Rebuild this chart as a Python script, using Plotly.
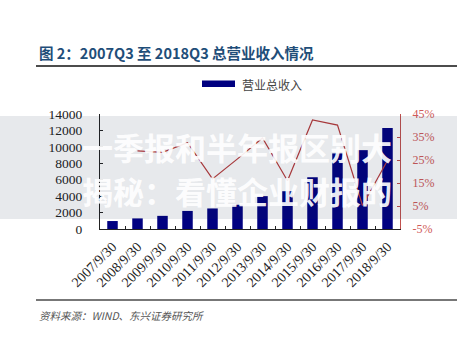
import plotly.graph_objects as go

# ---- data ----
dates = ["2007/9/30", "2008/9/30", "2009/9/30", "2010/9/30", "2011/9/30", "2012/9/30",
         "2013/9/30", "2014/9/30", "2015/9/30", "2016/9/30", "2017/9/30", "2018/9/30"]
revenue = [970, 1290, 1600, 2200, 2500, 2950, 4000, 4600, 6300, 9200, 9600, 12300]
growth = [None, 29.0, 28.3, 32.5, 16.8, 25.5, 34.6, 16.0, 42.4, 40.2, 5.2, 24.8]

left_ticks = [0, 2000, 4000, 6000, 8000, 10000, 12000, 14000]
right_ticks = [-5, 5, 15, 25, 35, 45]
right_tick_labels = ["-5%", "5%", "15%", "25%", "35%", "45%"]

title_text = "图 2：2007Q3 至 2018Q3 总营业收入情况"
legend_text = "营业总收入"
source_text = "资料来源：WIND、东兴证券研究所"
wm_line1 = "一季报和半年报区别大"
wm_line2 = "揭秘：看懂企业财报的"

W, H = 457, 337
L, R, T, B = 100, 57, 114, 108


def PX(x):
    return (x - L) / (W - L - R)


def PY(y):
    return (H - B - y) / (H - T - B)


serif = "Liberation Serif"
cjk = "Noto Sans CJK SC"

fig = go.Figure()
fig.add_trace(go.Bar(x=dates, y=revenue, marker_color="#000080", marker_line_width=0,
                     width=0.42, yaxis="y", name=legend_text))
fig.add_trace(go.Scatter(x=dates, y=growth, mode="lines", yaxis="y2",
                         line=dict(color="#B83B3B", width=1.2), connectgaps=False))

fig.update_layout(
    width=W, height=H,
    margin=dict(l=L, r=R, t=T, b=B, pad=0),
    paper_bgcolor="white", plot_bgcolor="white",
    showlegend=False,
    xaxis=dict(type="category", showline=True, linecolor="#222", linewidth=1,
               ticks="inside", tickson="boundaries", ticklen=3, tickcolor="#222",
               tickangle=-45, tickfont=dict(family=serif, size=14, color="#222"),
               showgrid=False, zeroline=False, ticklabelstandoff=3),
    yaxis=dict(range=[left_ticks[0], left_ticks[-1]], tickmode="array", tickvals=left_ticks,
               ticktext=[str(v) for v in left_ticks],
               showline=True, linecolor="#222", linewidth=1,
               ticks="inside", ticklen=3, tickcolor="#222", showgrid=False, zeroline=False,
               tickfont=dict(family=serif, size=13.5, color="#222"), ticklabelstandoff=14),
    yaxis2=dict(range=[right_ticks[0], right_ticks[-1]], tickmode="array", tickvals=right_ticks,
                ticktext=right_tick_labels, overlaying="y", side="right",
                showline=True, linecolor="#C0504D", linewidth=1, ticks="inside", ticklen=3,
                tickcolor="#C0504D", showgrid=False, zeroline=False,
                tickfont=dict(family=serif, size=12, color="#D05A5A"), ticklabelstandoff=9),
)

shapes = [
    dict(type="line", xref="paper", yref="paper", x0=PX(36), x1=PX(457), y0=PY(66), y1=PY(66),
         line=dict(color="#111", width=1.5)),
    dict(type="line", xref="paper", yref="paper", x0=PX(36), x1=PX(457), y0=PY(300), y1=PY(300),
         line=dict(color="#777", width=2)),
    dict(type="rect", xref="paper", yref="paper", x0=PX(202), x1=PX(235), y0=PY(87), y1=PY(80.5),
         fillcolor="#000080", line=dict(width=0)),
    dict(type="rect", xref="paper", yref="paper", x0=PX(0), x1=PX(457), y0=PY(219), y1=PY(116),
         fillcolor="rgba(20,40,70,0.1)", line=dict(width=0), layer="above"),
]
fig.update_layout(shapes=shapes)

annotations = [
    dict(text=title_text, x=PX(37), y=PY(53), xref="paper", yref="paper", xanchor="left",
         yanchor="middle", showarrow=False,
         font=dict(family=cjk, size=14.5, color="#1F4E79", weight="bold")),
    dict(text=legend_text, x=PX(240), y=PY(84), xref="paper", yref="paper", xanchor="left",
         yanchor="middle", showarrow=False, font=dict(family=cjk, size=12, color="#444")),
    dict(text=source_text, x=PX(37), y=PY(315), xref="paper", yref="paper", xanchor="left",
         yanchor="middle", showarrow=False,
         font=dict(family=cjk, size=10.5, color="#555", style="italic")),
    dict(text=wm_line1, x=PX(237), y=PY(146), xref="paper", yref="paper", xanchor="center",
         yanchor="middle", showarrow=False,
         font=dict(family=cjk, size=31, color="rgba(255,255,255,0.93)", weight="bold")),
    dict(text=wm_line2, x=PX(237), y=PY(190), xref="paper", yref="paper", xanchor="center",
         yanchor="middle", showarrow=False,
         font=dict(family=cjk, size=31, color="rgba(255,255,255,0.93)", weight="bold")),
]
fig.update_layout(annotations=annotations)

fig.write_html("out.html")
